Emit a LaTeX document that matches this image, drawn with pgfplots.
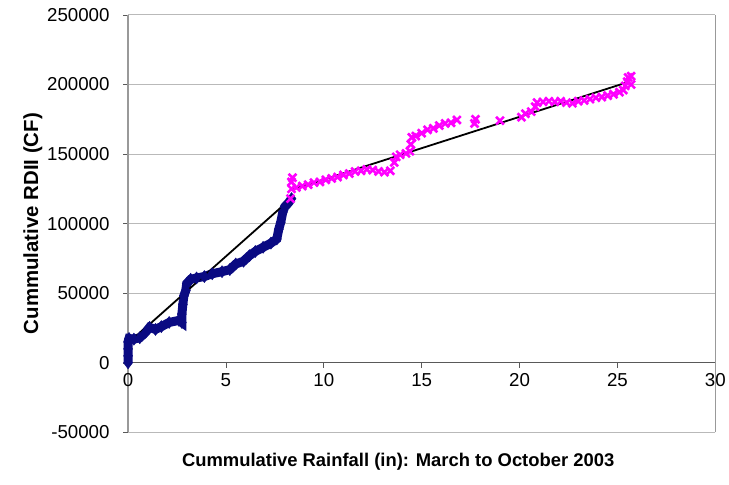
\documentclass[border={20bp 11bp 0bp 5bp}]{standalone}
\usepackage{pgfplots}
\pgfplotsset{compat=1.18}
\usepackage{fontspec}
\setmainfont{Liberation Sans}

\definecolor{rdiiblue}{RGB}{10,10,130}
\definecolor{rdiimag}{RGB}{255,0,255}

\begin{document}
\begin{tikzpicture}
    \begin{axis}[
            scale only axis,
            width=588bp, height=418bp,
            xmin=0, xmax=30,
            ymin=-50000, ymax=250000,
            xtick={0,5,...,30},
            xticklabels={0,5,10,15,20,25,30},
            ytick={-50000,0,50000,100000,150000,200000,250000},
            yticklabels={-50000,0,50000,100000,150000,200000,250000},
            scaled y ticks=false,
            axis x line=middle,
            axis y line=box,
            ytick pos=left,
            hide obscured x ticks=false,
            x axis line style={-, draw=gray!70!black, line width=0.8bp},
            y axis line style={draw=gray!80, line width=1.2bp},
            tick align=outside,
            major tick length=5bp,
            tick style={draw=gray!70!black, line width=0.6bp},
            ymajorgrids,
            major grid style={draw=gray!55, line width=1bp},
            tick label style={font=\fontsize{18.8}{21}\selectfont},
            yticklabel style={xshift=-10bp},
            xticklabel style={yshift=-2bp},
            xlabel={Cummulative Rainfall (in): March to October 2003},
            ylabel={Cummulative RDII (CF)},
            xlabel style={at={(rel axis cs:0.46,0)}, anchor=north, yshift=-17bp,
                font=\fontsize{18.5}{20}\selectfont\bfseries},
            ylabel style={font=\fontsize{20.5}{22}\selectfont\bfseries, yshift=-2bp},
            clip=false,
        ]
        % earlier period (blue diamonds)
        \addplot[color=rdiiblue, line width=9bp, mark=diamond*, mark size=6bp,
            mark options={solid, line width=0.5bp}] coordinates {
            (0,0) (0,5000) (0,10000) (0,15000) (0.05,17500) (0.3,17000)
            (0.6,18000) (0.9,22000) (1.1,25500) (1.4,24000) (1.7,26000)
            (2.1,29000) (2.6,30500) (2.75,29000) (2.75,35000) (2.8,42000)
            (2.85,48000) (2.95,52000) (3.0,57000) (3.2,60000) (3.5,61000)
            (3.9,62000) (4.3,64000) (4.8,65500) (5.2,67000) (5.5,71000)
            (5.9,73000) (6.2,77000) (6.5,80000) (6.9,83000) (7.3,86000)
            (7.6,89000) (7.7,96000) (7.8,101000) (7.9,108000) (8.0,112000)
            (8.2,115000) (8.35,118000)
        };
        % later period (magenta crosses)
        \addplot[only marks, color=rdiimag, mark=x, mark size=5.5bp,
            mark options={line width=2.6bp}] coordinates {
            (8.3,118000) (8.35,125000) (8.35,130000) (8.4,133000) (8.6,126000)
            (8.9,127000) (9.2,128000) (9.5,129500) (9.8,130000) (10.1,131500)
            (10.4,132500) (10.7,133500) (11.0,135000) (11.3,136000) (11.6,137500)
            (11.9,138000) (12.2,139000) (12.5,138500) (12.8,137500) (13.1,137000)
            (13.4,138000) (13.6,144000) (13.7,148000) (13.9,149500) (14.2,150500)
            (14.4,152000) (14.45,157000) (14.5,162000) (14.7,163000) (15.0,165000)
            (15.3,167500) (15.6,168500) (15.9,170500) (16.2,172000) (16.5,172500)
            (16.8,174500) (17.7,172000) (17.75,175000) (19.0,174000) (20.1,176500)
            (20.3,179000) (20.6,180500) (20.8,184000) (20.9,187000) (21.2,187500)
            (21.5,188000) (21.8,187500) (22.1,188000) (22.4,187000) (22.7,186500)
            (23.0,188000) (23.3,188500) (23.6,189500) (23.9,190500) (24.2,191000)
            (24.5,192000) (24.8,193000) (25.1,194500) (25.3,196000) (25.4,199000)
            (25.5,202000) (25.55,205000) (25.7,200000) (25.7,206000)
        };
        % trend lines
        \addplot[black, line width=1.8bp, mark=none] coordinates {(0,14000) (8.4,119000)};
        \addplot[black, line width=1.8bp, mark=none] coordinates {(8.4,124500) (25.6,202000)};
    \end{axis}
\end{tikzpicture}
\end{document}
